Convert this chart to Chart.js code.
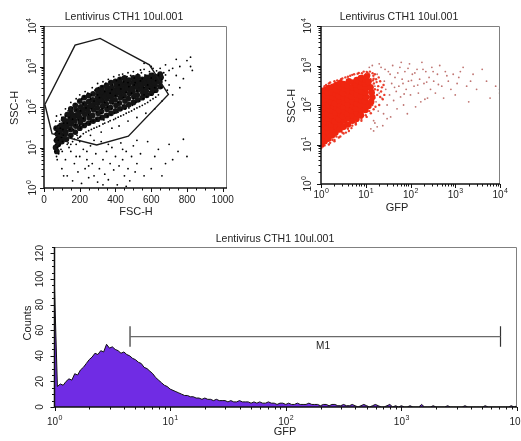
<!DOCTYPE html>
<html>
<head>
<meta charset="utf-8">
<script src="https://cdn.jsdelivr.net/npm/chart.js@4.4.0/dist/chart.umd.min.js"></script>
<style>
	body { margin: 0; background: #fff; width: 521px; height: 441px; overflow: hidden; position: relative; }
	canvas { position: absolute; }
	#dotFsc { left: 0; top: 0; }
	#dotGfp { left: 260px; top: 0; }
	#histGfp { left: 0; top: 225px; }
</style>
</head>
<body>
<canvas id="dotFsc" width="260" height="225"></canvas>
<canvas id="dotGfp" width="261" height="225"></canvas>
<canvas id="histGfp" width="521" height="216"></canvas>
<script>
/* sample / axes */
var sampleName = 'Lentivirus CTH1 10ul.001';
var fscTicks = [0, 200, 400, 600, 800, 1000];
var logDecades = [1, 10, 100, 1000, 10000];
var countTicks = [0, 20, 40, 60, 80, 100, 120];
var chPerDecade = 40;

/* R1 gate on FSC/SSC */
var gateFsc = [5, 174, 314, 590, 696, 472, 295, 45, 5];
var gateSsc = [115, 3380, 4940, 1100, 204, 19, 11.5, 22, 115];

/* FSC-H / SSC-H : dense band */
var fscSscCore = [
	[100,14],[105,20],[98,28],[108,36],[125,16],[122,24],[128,33],[124,45],
	[150,20],[148,28],[153,38],[147,52],[152,70],[175,24],[178,34],[172,46],[176,62],[180,85],
	[200,30],[203,42],[198,56],[202,75],[205,100],[225,35],[222,50],[228,66],[224,88],[226,120],
	[250,40],[253,55],[248,75],[252,100],[250,135],[275,45],[272,62],[278,85],[275,112],[273,150],
	[300,50],[303,70],[298,95],[302,125],[300,170],[305,220],[325,55],[322,78],[328,105],[326,140],[323,185],[327,240],
	[350,62],[353,88],[348,120],[352,160],[349,210],[354,270],[375,70],[372,98],[378,135],[376,180],[373,235],[377,300],
	[400,80],[403,110],[398,150],[402,200],[400,260],[405,340],[425,90],[422,125],[428,170],[426,225],[423,290],[427,380],
	[450,100],[453,140],[448,190],[452,250],[450,330],[455,420],[475,115],[472,160],[478,215],[476,280],[473,360],
	[500,130],[503,180],[498,240],[502,310],[500,400],[525,150],[522,200],[528,265],[526,340],[523,440],
	[550,170],[553,225],[548,290],[552,380],[575,195],[572,250],[578,320],[576,420],
	[600,220],[603,290],[598,370],[602,470],[625,260],[622,340],[628,430],[650,320],[648,420],[655,540],
	[65,10],[70,15],[75,22],[68,30],[80,12],[85,18],[72,8],[90,25],[95,35],[110,18],[120,22],[88,14],
	[110,50],[130,65],[150,90],[175,110],[200,140],[225,170],[250,190],[275,210],[300,260],[325,300],[350,340],
	[375,400],[400,430],[425,480],[450,520],[475,460],[500,520],[525,560],[550,480],[575,540],[600,600],[625,560],[650,650],
	[115,30],[140,42],[165,55],[190,65],[215,80],[240,95],[265,110],[290,130],[315,150],[340,180],[365,200],[390,230],
	[415,250],[440,280],[465,300],[490,280],[515,320],[540,360],[565,380],[590,440],[615,400],[640,480]
];
/* FSC-H / SSC-H : single events */
var fscSscEvents = [
	[62,8],[65,12],[68,18],[70,6],[72,25],[75,10],[78,35],[80,15],[82,7],[85,22],[88,45],[90,12],[92,30],[95,9],[98,18],
	[100,55],[104,14],[106,28],[110,40],[64,30],[66,45],[70,60],[74,5],[76,20],[84,11],[94,65],[102,8],[108,20],[60,15],[63,22],
	[120,60],[135,80],[150,18],[160,95],[165,28],[175,120],[185,20],[195,140],[205,30],[210,160],[220,35],[225,180],
	[235,40],[245,220],[255,38],[265,200],[275,45],[285,260],[295,50],[305,300],[315,55],[325,320],[335,48],[345,380],
	[355,60],[365,420],[375,65],[385,350],[395,70],[405,450],[415,75],[425,500],[435,85],[445,420],[455,90],[465,560],
	[475,95],[485,600],[495,110],[505,520],[515,130],[525,650],[535,140],[545,700],[555,160],[565,620],[575,180],[590,750],
	[600,200],[610,680],[620,230],[640,650],[655,300],[670,700],[680,450],[700,800],
	[720,900],[740,600],[760,1000],[780,500],[800,1400],[820,1700],[830,800],[760,300],[700,350],[650,900],[680,1100],
	[600,1000],[560,1200],[720,200],[820,1000],[740,1500],
	[100,3],[120,5],[130,2],[150,8],[160,1.5],[170,4],[180,12],[190,2.5],[200,6],[210,1.3],[220,9],[230,3],[240,5],
	[250,1.8],[260,11],[270,4],[280,2],[290,7],[300,1.4],[310,3],[320,14],[330,5],[340,2.2],[350,8],[360,1.6],[370,4],
	[380,10],[390,2.8],[400,6],[410,1.2],[420,3.5],[430,13],[440,5],[450,2],[460,8],[470,3],[480,1.5],[490,6],[500,11],
	[510,2.5],[520,4],[540,7],[560,2],[580,14],[600,3],[620,6],[640,9],[660,2],[680,4],[700,12],[720,5],[750,8],[780,16],
	[800,6],[360,12],[280,15],[240,8],[200,14],[440,9],[520,15],[140,10],[110,2],[460,1.1],[330,1.2],[250,3.5],[180,6],
	[130,40],[145,28],[160,50],[175,36],[190,48],[205,80],[220,52],[235,95],[250,65],[265,90],[280,140],[295,75],
	[310,170],[325,90],[340,130],[355,100],[370,220],[385,120],[400,190],[415,130],[430,280],[445,170],[460,230],
	[475,320],[490,220],[505,350],[520,250],[540,440],[560,300],[580,350],[600,520],[625,450],[640,600],[660,480],
	[590,280],[550,500],[510,400],[470,400],[420,350],[380,270],[340,240],[300,200],[260,160],[220,120],[180,85],
	[140,55],[200,35],[260,45],[320,70],[380,90],[440,110],[500,160],[560,200],[620,300],
	[150,130],[180,160],[230,240],[270,300],[330,420],[390,560],[440,650],[500,750],[560,850],[630,780],[680,620],
	[120,90],[200,200],[300,380],[360,480],[420,620],[470,700],[540,820],[610,900],[660,300],[690,260],
	[150,12],[200,18],[260,20],[320,24],[380,30],[420,34],[470,45],[520,55],[570,70],[620,90],[660,140],
	[130,12],[160,14],[190,17],[220,22],[250,26],[280,30],[310,34],[340,40],[370,46],[400,52],[430,60],[460,70],
	[490,80],[520,95],[550,110],[580,130],[610,160],[640,200],
	[135,13],[170,16],[205,19],[235,24],[265,28],[295,32],[330,38],[360,43],[390,49],[415,56],[445,64],[475,75],
	[505,88],[535,102],[565,120],[595,145],[625,175]
];

/* GFP / SSC-H : dense population */
var gfpSscCore = [
	[1.02,10],[1.05,14],[1.0,18],[1.08,24],[1.02,32],[1.06,42],[1.0,55],[1.04,70],[1.02,90],[1.07,115],[1.0,145],[1.05,185],[1.02,230],
	[1.2,12],[1.25,17],[1.18,22],[1.3,29],[1.22,38],[1.28,50],[1.2,65],[1.3,85],[1.24,110],[1.2,140],[1.3,180],[1.25,240],
	[1.45,14],[1.5,20],[1.42,27],[1.55,35],[1.48,46],[1.4,60],[1.52,78],[1.45,100],[1.55,130],[1.48,170],[1.42,210],[1.5,270],
	[1.75,17],[1.8,24],[1.7,32],[1.85,42],[1.72,55],[1.8,72],[1.88,95],[1.7,120],[1.82,160],[1.75,210],[1.85,290],
	[2.1,20],[2.2,28],[2.05,38],[2.25,50],[2.1,65],[2.2,85],[2.05,110],[2.25,145],[2.15,190],[2.1,250],[2.2,320],
	[2.6,24],[2.7,33],[2.5,44],[2.75,58],[2.55,75],[2.7,98],[2.6,130],[2.5,170],[2.75,220],[2.6,300],[2.7,360],
	[3.2,28],[3.3,40],[3.1,52],[3.35,68],[3.15,90],[3.3,118],[3.2,155],[3.1,200],[3.35,260],[3.2,340],
	[4.0,32],[4.1,46],[3.9,60],[4.2,80],[4.0,105],[3.9,140],[4.15,180],[4.0,240],[3.9,310],[4.2,400],
	[5.0,40],[5.1,55],[4.9,72],[5.2,95],[5.0,125],[4.9,165],[5.15,215],[5.0,280],[5.2,370],
	[6.2,45],[6.4,62],[6.1,82],[6.3,110],[6.5,145],[6.2,190],[6.4,250],[6.1,330],[6.3,430],
	[7.8,55],[8.0,75],[7.6,100],[8.2,130],[7.9,170],[8.1,220],[7.7,290],[8.0,380],[7.8,480],
	[9.8,75],[10,95],[9.6,125],[10.2,160],[9.9,210],[10.1,270],[9.7,350],[10,450],
	[11.5,95],[13.2,120],[14,160],[13.5,210],[12.8,280],[11.4,380],[10.5,520]
];
var gfpSscFringe = [
	[1.0,8],[1.0,250],[1.1,9],[1.2,300],[1.5,10],[1.5,350],[2,12],[2,400],[2.5,15],[2.8,450],[3,20],[3.5,500],
	[4,25],[4.5,550],[5,30],[5.5,600],[6,35],[7,650],[8,45],[9,700],[10,55],[11,650],[12,70],[13,400],[14,100],
	[15,200],[1.3,11],[1.8,13],[2.2,16],[3.2,19],[4.2,22],[6.5,40],[7.5,500],[8.5,550],[10,600],[12,550],
	[1.3,320],[1.6,370],[2.3,420],[3.0,470],[4.0,520],[5.0,580],[6.6,620],[8.2,640],[10.5,690],[12.4,700],[14.2,640],
	[1.2,9.5],[1.6,11],[2.0,13],[2.7,16],[3.6,20],[4.8,26],[6.0,32],[8.0,40],[10.5,50],[13,62],[15,78],
	[14.5,120],[15.5,150],[16,250],[15.2,350],[17,450],[14.8,550],[18,180],[19,300],[20,100],[21,400],[22,220],
	[24,140],[25,320],[26,180],[16.5,90],[17.5,380],[18.5,240],[19.5,500],[21,160],[23,280],[15,460],[16,600],
	[13.5,300],[14.5,420],[12.8,450],[11.8,600]
];
var gfpSscEvents = [
	[15,40],[16,300],[17,120],[18,600],[19,70],[20,200],[22,900],[23,150],[25,60],[26,400],[28,250],[30,100],
	[32,700],[34,180],[36,50],[38,350],[40,1000],[42,130],[45,500],[48,220],[50,80],[55,300],[58,900],[60,160],
	[65,450],[70,100],[75,700],[80,250],[85,60],[90,400],[95,1100],[100,180],[110,600],[120,300],[130,90],[140,800],
	[150,200],[160,450],[170,120],[180,1200],[200,350],[220,700],[240,150],[260,500],[280,250],[300,900],[330,400],
	[360,200],[400,600],[450,1000],[500,300],[550,150],[600,700],[700,400],[800,250],[900,600],[1000,180],[1200,500],
	[1500,900],[1800,300],[2000,120],[2500,600],[3000,250],[4000,800],[5000,400],[6000,150],[8000,300],[9800,200],
	[9800,250],[12,900],[14,1000],[20,1100],[16,35],[24,30],[30,45],[13,25],[15,22],[18,28],[27,800],[35,600],
	[44,280],[52,650],[62,1200],[68,350],[72,190],[88,850],[105,420],[125,650],[145,320],[190,800],[210,140],
	[230,380],[320,700],[420,330],[650,550],[1100,350],[1300,700],[2200,400]
];

/* GFP histogram, 40 channels per decade */
var gfpCounts = [
	93,16,18,17,20,22,21,26,25,29,31,34,37,39,42,41,44,43,49,46,
	47,45,44,42,43,41,40,38,37,35,34,31,30,28,26,23,21,19,17,16,
	14,13,12,11,10,9,9,8,8,7,7,6,7,6,6,5,6,5,5,5,
	4,5,4,4,5,4,4,4,3,4,3,4,3,3,4,3,3,2,3,3,
	2,3,2,2,3,2,2,2,3,2,2,2,1,2,2,1,2,2,1,1,
	2,1,1,2,1,0,1,2,1,0,1,2,1,0,0,1,2,0,1,0,
	1,0,0,1,0,0,0,2,0,0,0,1,0,0,0,0,1,0,0,0,
	0,0,1,0,0,0,0,0,0,1,0,0,0,0,0,0,0,0,1,0,1
];
/* M1 marker */
var m1Range = [4.5, 7200];
var m1Level = 55;
var m1Label = 'M1';

var FONT = '"Liberation Sans", Arial, sans-serif';

function gfpToChannel(v) {
	return chPerDecade * Math.log10(v);
}

function logMinor(decades) {
	var out = [];
	for (var i = 0; i < decades.length - 1; i++) {
		for (var k = 2; k <= 9; k++) out.push(decades[i] * k);
	}
	return out;
}

function stepList(from, to, step) {
	var out = [];
	for (var v = from; v <= to; v += step) out.push(v);
	return out;
}

function drawText(ctx, text, x, y, size, vertical) {
	ctx.save();
	ctx.translate(x, y);
	if (vertical) ctx.rotate(-Math.PI / 2);
	ctx.font = size + 'px ' + FONT;
	ctx.textAlign = 'center';
	ctx.textBaseline = 'middle';
	ctx.fillText(text, 0, 0);
	ctx.restore();
}

function numLabel(ctx, x, y, v, vertical) {
	drawText(ctx, String(v), x, y, 10, vertical);
}

// "10" with a raised exponent
function powLabel(ctx, x, y, v, vertical) {
	var exp = String(Math.round(Math.log10(v)));
	ctx.save();
	ctx.translate(x, y);
	if (vertical) ctx.rotate(-Math.PI / 2);
	ctx.textAlign = 'left';
	ctx.textBaseline = 'middle';
	ctx.font = '10px ' + FONT;
	var w1 = ctx.measureText('10').width;
	ctx.font = '7px ' + FONT;
	var w2 = ctx.measureText(exp).width;
	var x0 = -(w1 + w2) / 2;
	ctx.font = '10px ' + FONT;
	ctx.fillText('10', x0, 0);
	ctx.font = '7px ' + FONT;
	ctx.fillText(exp, x0 + w1 + 0.5, -4);
	ctx.restore();
}

/* axes, frame and texts drawn over the plot area */
function frameAxes(cfg) {
	return {
		id: 'frameAxes',
		afterDatasetsDraw(chart) {
			const {ctx, chartArea: a, scales: {x: sx, y: sy}} = chart;
			const px = v => sx.getPixelForValue(cfg.x.map ? cfg.x.map(v) : v);
			const py = v => sy.getPixelForValue(cfg.y.map ? cfg.y.map(v) : v);
			ctx.save();
			ctx.strokeStyle = '#808080';
			ctx.lineWidth = 1;
			ctx.beginPath();
			ctx.moveTo(a.left, a.top + 0.5);
			ctx.lineTo(a.right - 0.5, a.top + 0.5);
			ctx.lineTo(a.right - 0.5, a.bottom);
			ctx.stroke();

			ctx.strokeStyle = '#111';
			ctx.lineWidth = 1.5;
			ctx.beginPath();
			ctx.moveTo(a.left, a.top);
			ctx.lineTo(a.left, a.bottom);
			ctx.lineTo(a.right, a.bottom);
			ctx.stroke();

			ctx.lineWidth = 1;
			ctx.beginPath();
			cfg.x.major.forEach(v => { const p = Math.round(px(v)) + 0.5; ctx.moveTo(p, a.bottom); ctx.lineTo(p, a.bottom + 4); });
			cfg.x.minor.forEach(v => { const p = Math.round(px(v)) + 0.5; ctx.moveTo(p, a.bottom); ctx.lineTo(p, a.bottom + 2.5); });
			cfg.y.major.forEach(v => { const p = Math.round(py(v)) + 0.5; ctx.moveTo(a.left, p); ctx.lineTo(a.left - 4, p); });
			cfg.y.minor.forEach(v => { const p = Math.round(py(v)) + 0.5; ctx.moveTo(a.left, p); ctx.lineTo(a.left - 2.5, p); });
			ctx.stroke();

			ctx.fillStyle = '#222';
			cfg.x.major.forEach(v => cfg.x.label(ctx, px(v), a.bottom + cfg.x.gap, v, false));
			cfg.y.major.forEach(v => cfg.y.label(ctx, a.left - cfg.y.gap, py(v), v, true));

			drawText(ctx, cfg.title[0], cfg.title[1], cfg.title[2], 10.5, false);
			drawText(ctx, cfg.xTitle[0], cfg.xTitle[1], cfg.xTitle[2], 11, false);
			drawText(ctx, cfg.yTitle[0], cfg.yTitle[1], cfg.yTitle[2], 11, true);
			if (cfg.extra) cfg.extra(ctx, px, py);
			ctx.restore();
		}
	};
}

function baseOptions(pad, xScale, yScale) {
	return {
		responsive: false,
		animation: false,
		devicePixelRatio: 1,
		events: [],
		layout: { padding: pad },
		plugins: { legend: { display: false }, tooltip: { enabled: false } },
		scales: { x: xScale, y: yScale }
	};
}

function toXY(list) {
	return list.map(p => ({ x: p[0], y: p[1] }));
}

/* FSC-H vs SSC-H dot plot */
new Chart(document.getElementById('dotFsc'), {
	type: 'scatter',
	data: {
		datasets: [{
			data: gateFsc.map((v, i) => ({ x: v, y: gateSsc[i] })),
			showLine: true,
			borderColor: '#1a1a1a',
			borderWidth: 1.4,
			pointRadius: 0,
			fill: false,
			order: 0
		}, {
			data: toXY(fscSscCore),
			pointRadius: 2.9,
			backgroundColor: '#141414',
			borderWidth: 0,
			order: 2
		}, {
			data: toXY(fscSscEvents),
			pointRadius: 0.9,
			backgroundColor: '#000',
			borderWidth: 0,
			order: 1
		}]
	},
	options: baseOptions({ left: 44, top: 26, right: 33, bottom: 37 },
		{ type: 'linear', min: 0, max: 1024, display: false },
		{ type: 'logarithmic', min: 1, max: 10000, display: false }),
	plugins: [frameAxes({
		x: { major: fscTicks, minor: stepList(50, 1000, 50), label: numLabel, gap: 12 },
		y: { major: logDecades, minor: logMinor(logDecades), label: powLabel, gap: 11 },
		title: [sampleName, 124, 17],
		xTitle: ['FSC-H', 136, 212],
		yTitle: ['SSC-H', 15, 108]
	})]
});

/* GFP vs SSC-H dot plot */
new Chart(document.getElementById('dotGfp'), {
	type: 'scatter',
	data: {
		datasets: [{
			data: toXY(gfpSscCore),
			pointRadius: 3.3,
			backgroundColor: 'rgb(240,38,16)',
			borderWidth: 0
		}, {
			data: toXY(gfpSscFringe),
			pointRadius: 1.2,
			backgroundColor: 'rgba(232,40,20,0.9)',
			borderWidth: 0
		}, {
			data: toXY(gfpSscEvents),
			pointRadius: 0.9,
			backgroundColor: 'rgba(170,70,66,0.75)',
			borderWidth: 0
		}]
	},
	options: baseOptions({ left: 61, top: 26, right: 21, bottom: 41 },
		{ type: 'logarithmic', min: 1, max: 10000, display: false },
		{ type: 'logarithmic', min: 1, max: 10000, display: false }),
	plugins: [frameAxes({
		x: { major: logDecades, minor: logMinor(logDecades), label: powLabel, gap: 11 },
		y: { major: logDecades, minor: logMinor(logDecades), label: powLabel, gap: 13 },
		title: [sampleName, 139, 17],
		xTitle: ['GFP', 137, 208],
		yTitle: ['SSC-H', 32, 106]
	})]
});

/* GFP histogram with M1 marker */
new Chart(document.getElementById('histGfp'), {
	type: 'line',
	data: {
		datasets: [{
			data: gfpCounts.map((c, i) => ({ x: i, y: c })),
			borderColor: '#111',
			borderWidth: 1,
			backgroundColor: 'rgb(112,44,228)',
			fill: 'origin',
			pointRadius: 0,
			tension: 0
		}, {
			data: [{ x: gfpToChannel(m1Range[0]), y: m1Level }, { x: gfpToChannel(m1Range[1]), y: m1Level }],
			borderColor: '#6a6a6a',
			borderWidth: 1.2,
			pointRadius: 0,
			fill: false
		}, {
			data: [{ x: gfpToChannel(m1Range[0]), y: m1Level - 8 }, { x: gfpToChannel(m1Range[0]), y: m1Level + 8 }],
			borderColor: '#333',
			borderWidth: 1.2,
			pointRadius: 0,
			fill: false
		}, {
			data: [{ x: gfpToChannel(m1Range[1]), y: m1Level - 8 }, { x: gfpToChannel(m1Range[1]), y: m1Level + 8 }],
			borderColor: '#333',
			borderWidth: 1.2,
			pointRadius: 0,
			fill: false
		}]
	},
	options: baseOptions({ left: 54.5, top: 22, right: 4, bottom: 34 },
		{ type: 'linear', min: 0, max: chPerDecade * 4, display: false },
		{ type: 'linear', min: 0, max: 125, display: false }),
	plugins: [frameAxes({
		x: { major: logDecades, minor: logMinor(logDecades), map: gfpToChannel, label: powLabel, gap: 15 },
		y: { major: countTicks, minor: stepList(5, 125, 5), label: numLabel, gap: 14 },
		title: [sampleName, 275, 14],
		xTitle: ['GFP', 285, 207],
		yTitle: ['Counts', 28, 98],
		extra: function (ctx, px, py) {
			drawText(ctx, m1Label, px(210), py(m1Level) + 10, 10, false);
		}
	})]
});
</script>
</body>
</html>
